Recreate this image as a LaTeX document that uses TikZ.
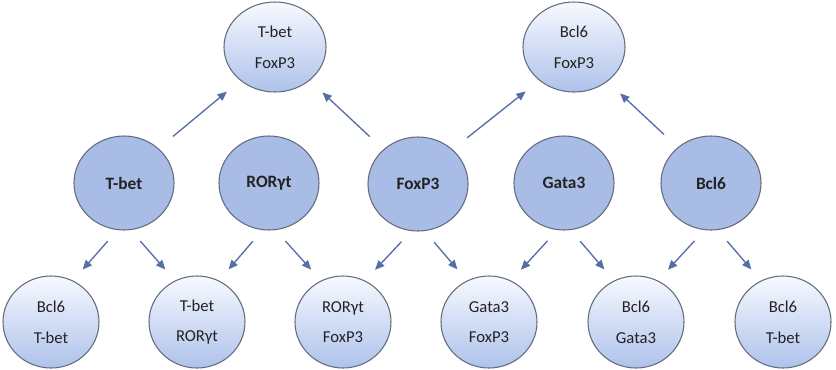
\documentclass[tikz,border=0pt]{standalone}
\usepackage{fontspec}
\setmainfont{Carlito}
\usetikzlibrary{shapes.geometric,arrows.meta}
\definecolor{edgegray}{RGB}{100,108,125}
\definecolor{midfill}{RGB}{168,188,230}
\definecolor{gradtop}{RGB}{247,249,254}
\definecolor{gradbot}{RGB}{174,194,235}
\definecolor{arrcol}{RGB}{85,110,165}
\definecolor{txt}{RGB}{35,35,35}
\begin{document}
\begin{tikzpicture}[x=0.75pt,y=-0.75pt,
  pairnode/.style={ellipse,draw=edgegray,line width=0.8pt,top color=gradtop,bottom color=gradbot,
    inner sep=0pt,align=center,font=\fontsize{12.5}{23}\selectfont,text=txt},
  topnode/.style={pairnode,minimum width=76.5pt,minimum height=67.5pt},
  botnode/.style={pairnode,minimum width=72pt,minimum height=69pt},
  midnode/.style={ellipse,draw=edgegray,line width=0.8pt,fill=midfill,inner sep=0pt,
    minimum width=75pt,minimum height=70.5pt,font=\fontsize{13}{15}\selectfont\bfseries,text=txt},
  arr/.style={-{Triangle[length=7pt,width=6pt]},draw=arrcol,line width=1pt,shorten <=11pt,shorten >=11pt},
  uparr/.style={arr,shorten <=14pt,shorten >=13pt}]
\useasboundingbox (0,0) rectangle (836,369);
% top row
\node[topnode] (t1) at (275,47) {T-bet\\FoxP3};
\node[topnode] (t2) at (574,47) {Bcl6\\FoxP3};
% middle row
\node[midnode] (m1) at (124,183) {T-bet};
\node[midnode] (m2) at (269,183) {RORγt};
\node[midnode] (m3) at (418,184) {FoxP3};
\node[midnode] (m4) at (564,183) {Gata3};
\node[midnode] (m5) at (711,183) {Bcl6};
% bottom row
\node[botnode] (b1) at (51,322) {Bcl6\\T-bet};
\node[botnode] (b2) at (197,322) {T-bet\\RORγt};
\node[botnode] (b3) at (343,322) {RORγt\\FoxP3};
\node[botnode] (b4) at (489,322) {Gata3\\FoxP3};
\node[botnode] (b5) at (636,322) {Bcl6\\Gata3};
\node[botnode] (b6) at (783,322) {Bcl6\\T-bet};
% upward arrows
\draw[uparr] (m1.45) -- (t1.224);
\draw[uparr] (m3.135) -- (t1.316);
\draw[uparr] (m3.45) -- (t2.224);
\draw[uparr] (m5.133) -- (t2.314);
% downward arrows
\draw[arr] (m1.-98) -- (b1.62);
\draw[arr] (m1.-82) -- (b2.118);
\draw[arr] (m2.-98) -- (b2.62);
\draw[arr] (m2.-82) -- (b3.118);
\draw[arr] (m3.-98) -- (b3.62);
\draw[arr] (m3.-82) -- (b4.118);
\draw[arr] (m4.-98) -- (b4.62);
\draw[arr] (m4.-82) -- (b5.118);
\draw[arr] (m5.-98) -- (b5.62);
\draw[arr] (m5.-82) -- (b6.118);
\end{tikzpicture}
\end{document}
